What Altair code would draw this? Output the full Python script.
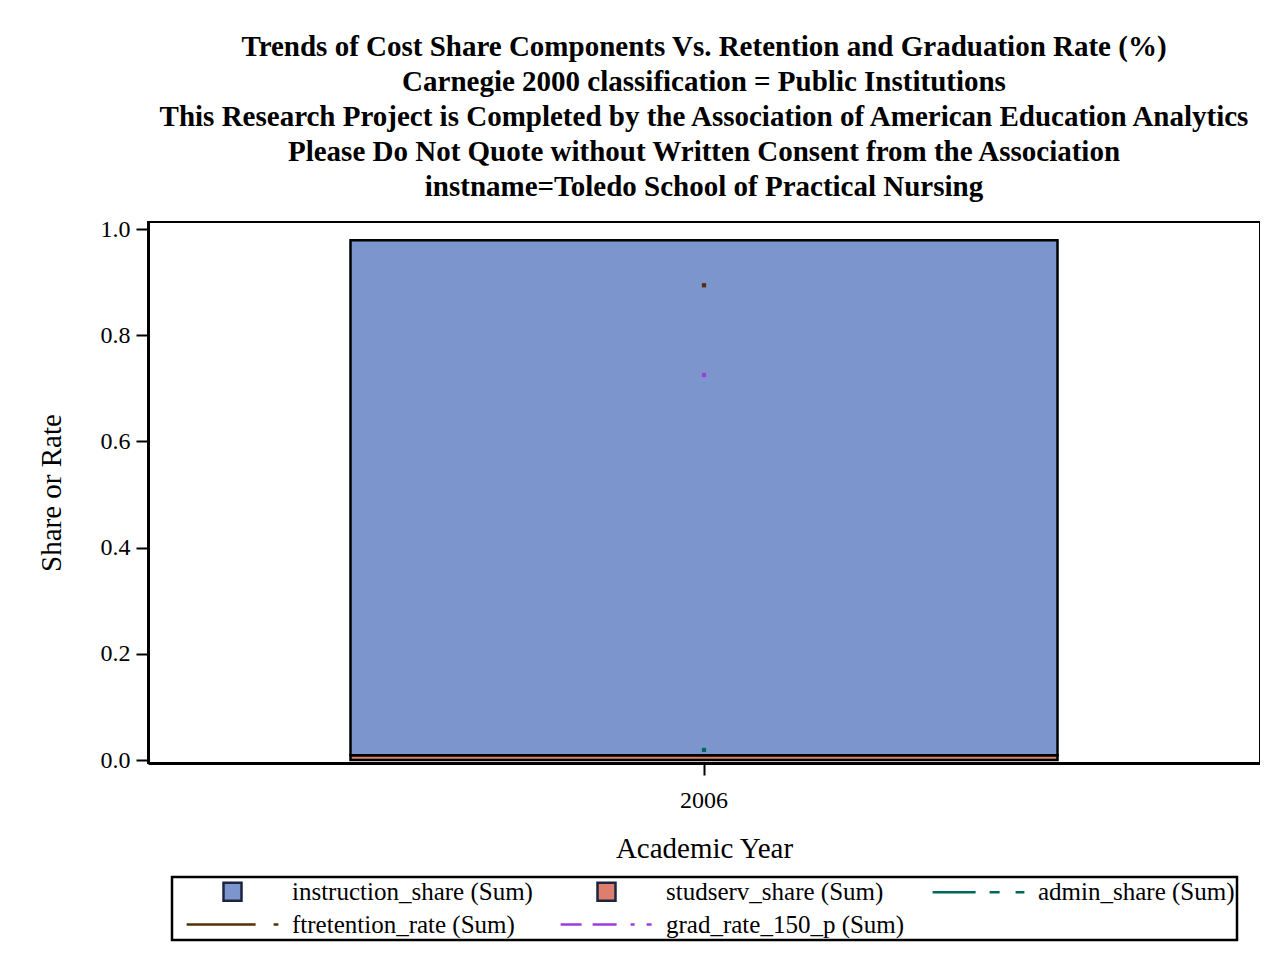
import altair as alt
import pandas as pd

# ---- data ----
years = ["2006"]
instruction_share = [0.970]
studserv_share = [0.009]
admin_share = [0.019]
ftretention_rate = [0.894]
grad_rate_150_p = [0.725]

bar_series = ["instruction_share (Sum)", "studserv_share (Sum)"]
line_series = ["admin_share (Sum)", "ftretention_rate (Sum)", "grad_rate_150_p (Sum)"]
series_colors = ["#7C96CD", "#DE7E6F", "#01665E", "#543005", "#9D3CDB"]
line_dashes = [[43, 14, 10, 16, 11, 120], [69, 18, 9, 120], [21, 11, 24, 14, 4, 12, 5, 120]]

title_lines = [
    "Trends of Cost Share Components Vs. Retention and Graduation Rate (%)",
    "Carnegie 2000 classification = Public Institutions",
    "This Research Project is Completed by the Association of American Education Analytics",
    "Please Do Not Quote without Written Consent from the Association",
    "instname=Toledo School of Practical Nursing",
]
y_ticks = [0.0, 0.2, 0.4, 0.6, 0.8, 1.0]

FONT = "Liberation Serif"

bars_df = pd.DataFrame({
    "year": years * 2,
    "series": [bar_series[0]] * len(years) + [bar_series[1]] * len(years),
    "value": instruction_share + studserv_share,
    "order": [2] * len(years) + [1] * len(years),
})
points_df = pd.DataFrame({
    "year": years * 3,
    "series": [line_series[0]] * len(years) + [line_series[1]] * len(years) + [line_series[2]] * len(years),
    "value": admin_share + ftretention_rate + grad_rate_150_p,
})

color_scale = alt.Scale(domain=bar_series + line_series, range=series_colors)

line_list = "[" + ",".join("'" + s + "'" for s in line_series) + "]"
is_line = f"(indexof({line_list}, datum.value) >= 0)"
shape_expr = f"{is_line} ? 'M -5.1 0 L 5.1 0' : 'square'"
dash_expr = ""
for s, d in zip(line_series, line_dashes):
    dash_expr += f"datum.value === '{s}' ? {d} : "
dash_expr += "[1000, 1]"
stroke_expr = f"{is_line} ? scale('color', datum.value) : '#1c2440'"

legend = alt.Legend(
    title=None,
    orient="none",
    legendX=24,
    legendY=655,
    direction="horizontal",
    columns=3,
    columnPadding=15,
    rowPadding=6,
    padding=2,
    strokeColor="black",
    symbolSize=324,
    symbolStrokeWidth=2.5,
    symbolOffset=46,
    labelOffset=47,
    symbolType={"expr": shape_expr},
    symbolDash={"expr": dash_expr},
    symbolStrokeColor={"expr": stroke_expr},
    labelFont=FONT,
    labelFontSize=25,
    labelColor="black",
    labelLimit=400,
)

x_enc = alt.X(
    "year:N",
    scale=alt.Scale(paddingInner=0, paddingOuter=0.2864),
    axis=alt.Axis(title="Academic Year", labelAngle=0, labelPadding=13, titlePadding=22),
)
y_scale = alt.Scale(domain=[-0.0056, 1.0132], nice=False, zero=False)
y_axis = alt.Axis(title="Share or Rate", values=y_ticks, format=".1f", labelPadding=6, titlePadding=34)

bars = alt.Chart(bars_df).mark_bar().encode(
    x=x_enc,
    y=alt.Y("value:Q", stack="zero", scale=y_scale, axis=y_axis),
    color=alt.Color("series:N", scale=color_scale, legend=legend),
    order=alt.Order("order:Q"),
)

outline = alt.Chart(bars_df).mark_bar(fillOpacity=0, stroke="black", strokeWidth=2.5).encode(
    x=alt.X("year:N"),
    y=alt.Y("value:Q", stack="zero"),
    detail="series:N",
    order=alt.Order("order:Q"),
)

points = alt.Chart(points_df).mark_square(size=18, opacity=1).encode(
    x=alt.X("year:N"),
    y=alt.Y("value:Q", stack=None),
    color=alt.Color("series:N", scale=color_scale, legend=legend),
)

chart = alt.layer(bars, outline, points).properties(
    width=1112,
    height=541,
    autosize=alt.AutoSizeParams(type="none"),
    padding={"left": 140, "top": 214, "right": 0, "bottom": 180},
    title=alt.TitleParams(
        text=title_lines,
        font=FONT,
        fontSize=29,
        fontWeight="bold",
        color="black",
        lineHeight=35,
        anchor="middle",
        offset=15,
    ),
).configure_view(
    stroke="black", strokeWidth=2
).configure_legend(
    strokeWidth=2.5
).configure_axis(
    grid=False,
    domainColor="black",
    domainWidth=3,
    tickColor="black",
    tickWidth=2,
    tickSize=12,
    labelFont=FONT,
    labelFontSize=24,
    labelColor="black",
    titleFont=FONT,
    titleFontSize=29,
    titleFontWeight="normal",
    titleColor="black",
)

chart.save("out.html", embed_options={"renderer": "svg", "actions": False})
